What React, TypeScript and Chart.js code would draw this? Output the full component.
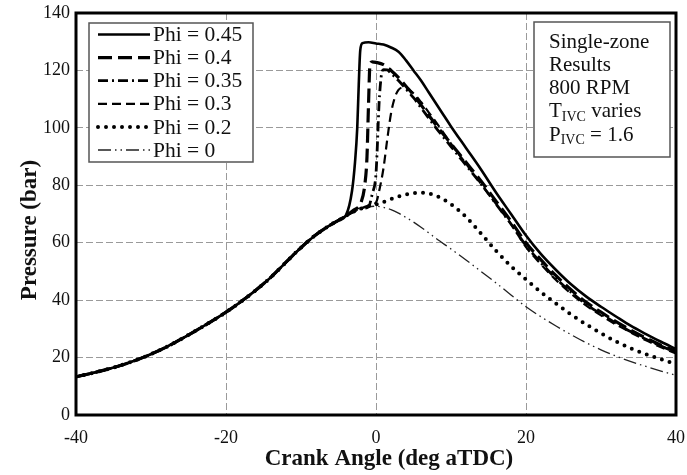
import React, { useEffect, useRef } from "react";
import { Chart, registerables } from "chart.js";

Chart.register(...registerables);

// ---------- data ----------
const xTickValues = [-40, -20, 0, 20, 40];
const yTickValues = [0, 20, 40, 60, 80, 100, 120, 140];

const xAxisTitle = "Crank Angle (deg aTDC)";
const yAxisTitle = "Pressure (bar)";

const seriesLabels = ["Phi = 0.45", "Phi = 0.4", "Phi = 0.35", "Phi = 0.3", "Phi = 0.2", "Phi = 0"];

// shared compression stroke (all cases identical)
const compressionAngle = [-40, -38, -36, -34, -32, -30, -28, -26, -24, -22, -20, -18, -16, -14, -12, -10, -8, -6, -5];
const compressionPressure = [13.3, 14.5, 15.8, 17.3, 19.1, 21.2, 23.6, 26.4, 29.4, 32.5, 35.8, 39.5, 43.5, 48, 53.2, 58.3, 62.8, 66.3, 67.8];

const angle045 = [-4, -3.2, -2.8, -2.5, -2.3, -2.1, -1.8, -1, 0, 1, 2, 3, 4, 5, 6, 7, 8, 9, 10, 12, 14, 16, 18, 20, 22, 24, 26, 28, 30, 32, 34, 36, 38, 40];
const pressure045 = [69.6, 78, 88, 100, 115, 127, 129.5, 129.8, 129.4, 129, 128, 126.5, 123.5, 120, 116.5, 112.5, 108.5, 104.5, 100.5, 93, 85.5, 77.5, 70, 62.5, 56, 50.5, 45.5, 41.3, 37.7, 34.3, 31, 28.2, 25.5, 23];

const angle040 = [-4, -3, -2, -1.5, -1.2, -1, -0.8, -0.5, 0, 1, 2, 3, 4, 5, 6, 7, 8, 10, 12, 14, 16, 18, 20, 22, 24, 26, 28, 30, 32, 34, 36, 38, 40];
const pressure040 = [69.4, 71.3, 74, 80, 90, 108, 122, 123, 122.8, 122, 120, 117.5, 114.5, 111.5, 108, 104.5, 101, 94.5, 88, 81.5, 74.5, 67.5, 60, 54, 48.5, 43.6, 39.3, 35.8, 32.5, 29.5, 26.8, 24.3, 22.2];

const angle035 = [-4, -3, -2, -1, -0.5, 0, 0.2, 0.4, 0.7, 1, 1.5, 2, 3, 4, 5, 6, 7, 8, 10, 12, 14, 16, 18, 20, 22, 24, 26, 28, 30, 32, 34, 36, 38, 40];
const pressure035 = [69.4, 70.8, 71.9, 72.5, 77, 84, 95, 108, 118, 120.3, 120.2, 119, 116.5, 113.5, 110.5, 107, 103.5, 100, 93.5, 87, 80.5, 73.5, 66.5, 59, 53, 47.5, 42.8, 38.6, 35.2, 32, 29, 26.4, 24, 21.8];

const angle030 = [-4, -3, -2, -1, 0, 0.5, 1, 1.5, 2, 2.5, 3, 3.5, 4, 5, 6, 7, 8, 10, 12, 14, 16, 18, 20, 22, 24, 26, 28, 30, 32, 34, 36, 38, 40];
const pressure030 = [69.4, 70.8, 72, 72.9, 74, 79, 86, 96, 105, 110.5, 113.2, 114, 113.7, 112, 109, 105.5, 102, 94.5, 87.5, 80.5, 73.5, 66.5, 58.5, 52.5, 47, 42.3, 38.2, 34.7, 31.5, 28.7, 26, 23.6, 21.4];

const angle020 = [-4, -3, -2, -1, 0, 1, 2, 3, 4, 5, 6, 7, 8, 9, 10, 12, 14, 16, 18, 20, 22, 24, 26, 28, 30, 32, 34, 36, 38, 40];
const pressure020 = [69.4, 70.8, 71.9, 72.7, 73.3, 74.2, 75.2, 76.1, 76.8, 77.3, 77.4, 77.2, 76.4, 75.1, 73.4, 69, 63.2, 57.2, 51.8, 47.2, 42.8, 38.8, 35, 31.6, 28.5, 25.6, 23.2, 21.2, 19.4, 17.7];

const angle000 = [-4, -3, -2, -1, 0, 1, 2, 3, 4, 5, 6, 7, 8, 10, 12, 14, 16, 18, 20, 22, 24, 26, 28, 30, 32, 34, 36, 38, 40];
const pressure000 = [69.4, 70.7, 71.8, 72.5, 72.7, 72.3, 71.5, 70.3, 68.8, 67.2, 65.4, 63.5, 61.5, 57.8, 54, 50, 46, 41.8, 37.7, 34.2, 31, 28, 25.2, 22.7, 20.5, 18.6, 16.9, 15.3, 13.8];

const annotationLines = ["Single-zone", "Results", "800 RPM"];

// ---------- styles ----------
const SERIF = '"Liberation Serif", "Times New Roman", serif';

const lineStyles = [
  { width: 2.6, dash: [] as number[], cap: "butt", color: "#000" },
  { width: 3.2, dash: [14, 6], cap: "butt", color: "#000" },
  { width: 2.8, dash: [10, 4, 2, 4], cap: "butt", color: "#000" },
  { width: 2.2, dash: [9, 5], cap: "butt", color: "#000" },
  { width: 4, dash: [0, 8], cap: "round", color: "#000" },
  { width: 1.3, dash: [13, 4, 1.5, 4, 1.5, 4], cap: "butt", color: "#222" },
];

function buildPoints(angles: number[], pressures: number[]) {
  const pts = compressionAngle.map((a, i) => ({ x: a, y: compressionPressure[i] }));
  angles.forEach((a, i) => pts.push({ x: a, y: pressures[i] }));
  return pts;
}

const seriesAngles = [angle045, angle040, angle035, angle030, angle020, angle000];
const seriesPressures = [pressure045, pressure040, pressure035, pressure030, pressure020, pressure000];

const overlayPlugin = {
  id: "overlay",
  afterDatasetsDraw(chart: any) {
    const { ctx, chartArea } = chart;
    const L = chartArea.left;
    const T = chartArea.top;
    ctx.save();

    // legend box
    const lx = L + 13, ly = T + 10, lw = 164, lh = 139;
    ctx.fillStyle = "#fff";
    ctx.fillRect(lx, ly, lw, lh);
    ctx.strokeStyle = "#555";
    ctx.lineWidth = 1.5;
    ctx.setLineDash([]);
    ctx.strokeRect(lx, ly, lw, lh);

    chart.data.datasets.forEach((ds: any, i: number) => {
      const st = lineStyles[i];
      const y = ly + 11.5 + i * 23.1;
      ctx.beginPath();
      ctx.strokeStyle = st.color;
      ctx.lineWidth = st.width;
      ctx.lineCap = st.cap;
      ctx.setLineDash(st.dash);
      ctx.moveTo(lx + 9, y);
      ctx.lineTo(lx + 61, y);
      ctx.stroke();
      ctx.setLineDash([]);
      ctx.lineCap = "butt";
      ctx.fillStyle = "#111";
      ctx.font = `21.5px ${SERIF}`;
      ctx.textBaseline = "middle";
      ctx.textAlign = "left";
      ctx.fillText(ds.label, lx + 64, y + 1);
    });

    // annotation box
    const ax = L + 458, ay = T + 9, aw = 136, ah = 135;
    ctx.fillStyle = "#fff";
    ctx.fillRect(ax, ay, aw, ah);
    ctx.strokeStyle = "#555";
    ctx.lineWidth = 1.5;
    ctx.strokeRect(ax, ay, aw, ah);
    ctx.fillStyle = "#111";
    ctx.textBaseline = "middle";
    const tx = ax + 15;
    const big = `21px ${SERIF}`;
    const small = `14px ${SERIF}`;
    annotationLines.forEach((t, i) => {
      ctx.font = big;
      ctx.fillText(t, tx, ay + 20 + i * 23.3);
    });
    const sub = (main: string, s: string, rest: string, y: number) => {
      ctx.font = big;
      ctx.fillText(main, tx, y);
      let x = tx + ctx.measureText(main).width;
      ctx.font = small;
      ctx.fillText(s, x, y + 5);
      x += ctx.measureText(s).width;
      ctx.font = big;
      ctx.fillText(rest, x, y);
    };
    sub("T", "IVC", " varies", ay + 20 + 3 * 23.3);
    sub("P", "IVC", " = 1.6", ay + 20 + 4 * 23.3);

    // thick frame
    ctx.strokeStyle = "#000";
    ctx.lineWidth = 3;
    ctx.setLineDash([]);
    ctx.strokeRect(chartArea.left, chartArea.top, chartArea.right - chartArea.left, chartArea.bottom - chartArea.top);

    // axis titles
    ctx.fillStyle = "#111";
    ctx.font = `bold 23px ${SERIF}`;
    ctx.textAlign = "center";
    ctx.textBaseline = "middle";
    ctx.fillText(xAxisTitle, L + 313, chartArea.bottom + 44);
    ctx.translate(30, T + 217);
    ctx.rotate(-Math.PI / 2);
    ctx.fillText(yAxisTitle, 0, 0);
    ctx.restore();
  },
};

export default function App() {
  const ref = useRef<HTMLCanvasElement | null>(null);

  useEffect(() => {
    if (!ref.current) return;
    const datasets = seriesLabels.map((label, i) => ({
      label,
      data: buildPoints(seriesAngles[i], seriesPressures[i]),
      borderColor: lineStyles[i].color,
      borderWidth: lineStyles[i].width,
      borderDash: lineStyles[i].dash,
      borderCapStyle: lineStyles[i].cap,
      pointRadius: 0,
      fill: false,
      cubicInterpolationMode: "monotone",
    }));

    const chart = new Chart(ref.current, {
      type: "line",
      data: { datasets } as any,
      options: {
        animation: false,
        responsive: false,
        maintainAspectRatio: false,
        layout: { padding: { top: 13, right: 11, left: 0, bottom: 0 } },
        plugins: { legend: { display: false }, tooltip: { enabled: false } },
        scales: {
          x: {
            type: "linear",
            min: -40,
            max: 40,
            afterBuildTicks: (s: any) => {
              s.ticks = xTickValues.map((v) => ({ value: v }));
            },
            afterFit: (s: any) => {
              s.height = 60;
              s.paddingLeft = 0;
              s.paddingRight = 0;
            },
            grid: { color: "#9a9a9a", lineWidth: 1, drawTicks: false },
            border: { display: false, dash: [7, 3] },
            ticks: {
              color: "#111",
              padding: 12,
              maxRotation: 0,
              font: { family: SERIF, size: 18 },
              callback: (v: any) => String(v),
            },
          },
          y: {
            type: "linear",
            min: 0,
            max: 140,
            afterBuildTicks: (s: any) => {
              s.ticks = yTickValues.map((v) => ({ value: v }));
            },
            afterFit: (s: any) => {
              s.width = 76;
              s.paddingTop = 0;
              s.paddingBottom = 0;
            },
            grid: { color: "#9a9a9a", lineWidth: 1, drawTicks: false },
            border: { display: false, dash: [7, 3] },
            ticks: {
              color: "#111",
              padding: 6,
              font: { family: SERIF, size: 18 },
              callback: (v: any) => String(v),
            },
          },
        },
      } as any,
      plugins: [overlayPlugin],
    });
    return () => chart.destroy();
  }, []);

  return (
    <div style={{ position: "absolute", left: 0, top: 0, width: 687, height: 475, background: "#fff" }}>
      <canvas ref={ref} width={687} height={475} />
    </div>
  );
}
